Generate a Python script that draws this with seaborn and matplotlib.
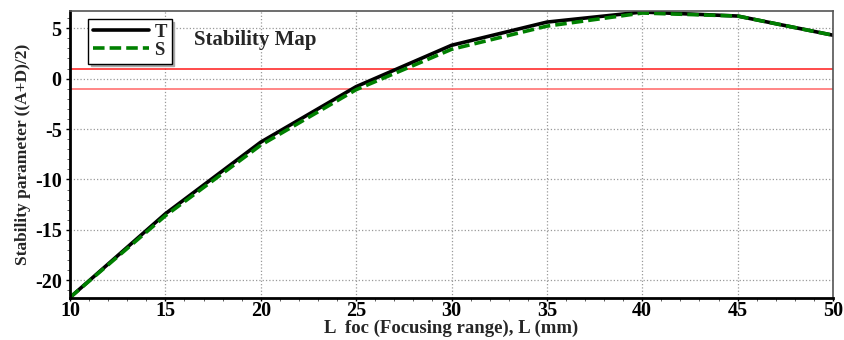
import numpy as np
import pandas as pd
import seaborn as sns
import matplotlib
matplotlib.use("Agg")
import matplotlib.pyplot as plt
from matplotlib.ticker import MultipleLocator

# ---- data ----
focus_range = [10, 15, 20, 25, 30, 35, 40, 45, 50]
t_values = [-21.7, -13.4, -6.3, -0.8, 3.3, 5.6, 6.6, 6.2, 4.3]
s_values = [-21.7, -13.6, -6.6, -1.1, 2.9, 5.2, 6.5, 6.2, 4.3]
series_names = ["T", "S"]
stability_bounds = [1, -1]

df = pd.DataFrame({
    "L": focus_range * 2,
    "val": t_values + s_values,
    "series": ["T"] * len(focus_range) + ["S"] * len(focus_range),
})

sns.set_theme(style="white")
plt.rcParams["font.family"] = ["Liberation Serif", "DejaVu Serif"]
plt.rcParams["font.weight"] = "bold"
plt.rcParams["axes.unicode_minus"] = False

fig = plt.figure(figsize=(8.44, 3.40), dpi=100)
ax = fig.add_axes([70 / 844, 1 - 298 / 340, (833 - 70) / 844, (298 - 11) / 340])

sns.lineplot(data=df, x="L", y="val", hue="series", style="series",
             hue_order=series_names, style_order=series_names,
             palette={"T": "black", "S": "#008000"},
             dashes={"T": "", "S": (3.2, 1.4)},
             linewidth=2.6, ax=ax, sort=False)

for yb, col in zip(stability_bounds, ["#ff1a1a", "#ff6666"]):
    ax.axhline(yb, color=col, lw=1.1, zorder=1)

ax.set_xlim(10, 50)
ax.set_ylim(-21.75, 6.7)
ax.xaxis.set_major_locator(MultipleLocator(5))
ax.xaxis.set_minor_locator(MultipleLocator(1))
ax.yaxis.set_major_locator(MultipleLocator(5))
ax.yaxis.set_minor_locator(MultipleLocator(1))
ax.grid(True, which="major", color="#999999", linestyle=":", linewidth=0.9)
ax.tick_params(which="major", direction="out", length=3, width=1, pad=3,
               labelsize=14.5, bottom=True, left=True, colors="black")
ax.tick_params(axis="x", which="major", length=2, pad=0.5)
ax.tick_params(which="minor", direction="out", length=2, width=0.6,
               bottom=True, left=True, colors="#444444")
for lab in ax.get_xticklabels() + ax.get_yticklabels():
    lab.set_fontweight("bold")

for side in ["left", "bottom"]:
    ax.spines[side].set_color("black")
    ax.spines[side].set_linewidth(2.0)
for side in ["top", "right"]:
    ax.spines[side].set_color("#555555")
    ax.spines[side].set_linewidth(1.2)

ax.set_xlabel("L  foc (Focusing range), L (mm)", fontsize=13.5,
              fontweight="bold")
ax.xaxis.set_label_coords(0.5, (298 - 320) / 287)
ax.set_ylabel("Stability parameter ((A+D)/2)", fontsize=12.5,
              fontweight="bold", labelpad=3)

ax.text(194 / 100, (340 - 40) / 100, "Stability Map",
        transform=fig.dpi_scale_trans, fontsize=15,
        fontweight="bold", va="center", ha="left")

leg = ax.legend(loc="upper left", bbox_to_anchor=(0.0235, 0.972),
                frameon=True, fancybox=False,
                shadow={"color": "#aaaaaa", "alpha": 1.0},
                handlelength=3.0, borderpad=0.25,
                labelspacing=0.05, handletextpad=0.3, borderaxespad=0.0,
                prop={"weight": "bold", "size": 13.5})
leg.get_frame().set_edgecolor("black")
leg.get_frame().set_linewidth(1.0)
for h in leg.get_lines():
    h.set_linewidth(2.6)

fig.savefig("out.png", dpi=100)
